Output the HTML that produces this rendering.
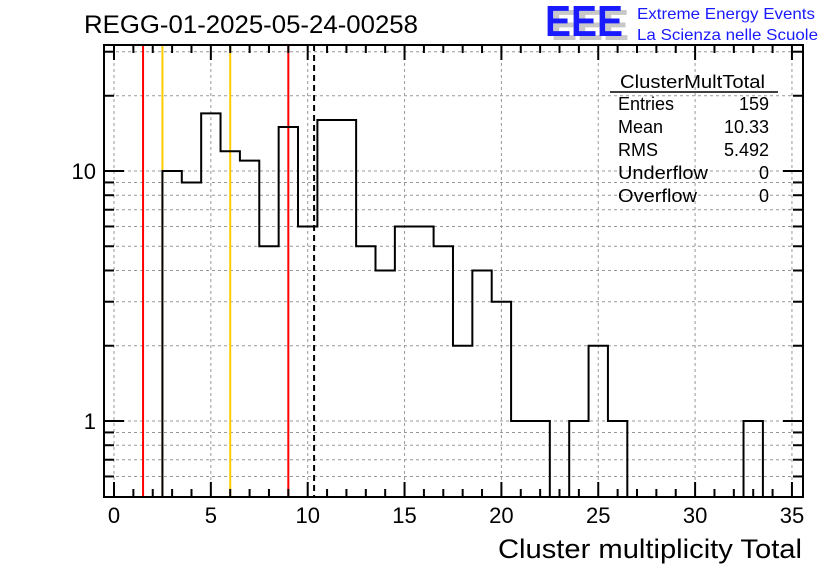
<!DOCTYPE html>
<html><head><meta charset="utf-8"><style>
body{margin:0;background:#fff;}
svg{display:block;font-family:"Liberation Sans",Arial,sans-serif;}
</style></head><body>
<svg id="c" width="836" height="572" xmlns="http://www.w3.org/2000/svg">
<text x="84" y="33" font-size="25" textLength="334" lengthAdjust="spacingAndGlyphs">REGG-01-2025-05-24-00258</text>
<g>
<text x="551" y="40" font-size="44" font-weight="bold" fill="#c8c8c8" textLength="78" lengthAdjust="spacingAndGlyphs">EEE</text>
<text x="545" y="36" font-size="44" font-weight="bold" fill="#1a1aff" textLength="78" lengthAdjust="spacingAndGlyphs">EEE</text>
<text x="637" y="19" font-size="16" fill="#1a1aff" textLength="178" lengthAdjust="spacingAndGlyphs">Extreme Energy Events</text>
<text x="637" y="40" font-size="16" fill="#1a1aff" textLength="181" lengthAdjust="spacingAndGlyphs">La Scienza nelle Scuole</text>
</g>
<g id="grid"></g>
<g id="marks"></g>
<g id="axes"></g>
<g font-size="18">
<text x="620" y="88" textLength="145" lengthAdjust="spacingAndGlyphs">ClusterMultTotal</text>
<line x1="610" y1="92" x2="778" y2="92" stroke="#000" stroke-width="1.5"/>
<text x="618" y="110">Entries</text><text x="769" y="110" text-anchor="end">159</text>
<text x="618" y="133">Mean</text><text x="769" y="133" text-anchor="end">10.33</text>
<text x="618" y="156">RMS</text><text x="769" y="156" text-anchor="end">5.492</text>
<text x="618" y="179" textLength="90" lengthAdjust="spacingAndGlyphs">Underflow</text><text x="769" y="179" text-anchor="end">0</text>
<text x="618" y="202" textLength="79" lengthAdjust="spacingAndGlyphs">Overflow</text><text x="769" y="202" text-anchor="end">0</text>
</g>
<text x="802" y="558" font-size="27" text-anchor="end" textLength="304" lengthAdjust="spacingAndGlyphs">Cluster multiplicity Total</text>
</svg>
<script>
const binLo = [2.5,3.5,4.5,5.5,6.5,7.5,8.5,9.5,10.5,11.5,12.5,13.5,14.5,15.5,16.5,17.5,18.5,19.5,20.5,21.5,22.5,23.5,24.5,25.5,26.5,27.5,28.5,29.5,30.5,31.5,32.5];
const counts = [10,9,17,12,11,5,15,6,16,16,5,4,6,6,5,2,4,3,1,1,0,1,2,1,0,0,0,0,0,0,1];
const xTicks = [0,5,10,15,20,25,30,35];
const yTickLabels = [1,10];
const redLines = [1.5,9];
const yellowLines = [2.5,6];
const meanLine = [10.33];

const L=104,R=803,T=45,B=497;
const x0=114,pxU=19.37;
const X=v=>x0+v*pxU;
const Y=v=>421-250*Math.log10(v);
const NS='http://www.w3.org/2000/svg';
function mk(tag,attrs,parent){const e=document.createElementNS(NS,tag);for(const k in attrs)e.setAttribute(k,attrs[k]);parent.appendChild(e);return e;}
const grid=document.getElementById('grid'),marks=document.getElementById('marks'),axes=document.getElementById('axes');
const minors=[0.6,0.7,0.8,0.9,1,2,3,4,5,6,7,8,9,10,20,30];
minors.forEach(v=>{const l=mk('line',{x1:L,x2:R,y1:Y(v),y2:Y(v),stroke:'#999','stroke-dasharray':'3,3','stroke-width':1},grid);

});
xTicks.forEach(v=>{const l=mk('line',{x1:X(v),x2:X(v),y1:T,y2:B,stroke:'#999','stroke-dasharray':'3,3','stroke-width':1},grid);

});
redLines.forEach(v=>{const l=mk('line',{x1:X(v),x2:X(v),y1:T,y2:B,stroke:'#f00','stroke-width':2},marks);

});
yellowLines.forEach(v=>{const l=mk('line',{x1:X(v),x2:X(v),y1:T,y2:B,stroke:'#fc0','stroke-width':2},marks);

});
meanLine.forEach(v=>{const l=mk('line',{x1:X(v),x2:X(v),y1:T,y2:B,stroke:'#000','stroke-width':2,'stroke-dasharray':'6,4'},marks);

});
let d='';let first=true;
binLo.forEach((lo,i)=>{const c=counts[i];const yy=c>0?Y(c):B;const xa=X(lo),xb=X(lo+1);
 if(first){d+=`M${xa},${B}L${xa},${yy}`;first=false;}else{d+=`L${xa},${yy}`;}
 d+=`L${xb},${yy}`;});
d+=`L${X(binLo[binLo.length-1]+1)},${B}`;
const h=mk('path',{d:d,fill:'none',stroke:'#000','stroke-width':2},marks);


const f=mk('rect',{x:L,y:T,width:R-L,height:B-T,fill:'none',stroke:'#000','stroke-width':2},axes);


for(let v=0;v<=35;v++){const maj=v%5===0;const len=maj?15:8;
 mk('line',{x1:X(v),x2:X(v),y1:B,y2:B-len,stroke:'#000','stroke-width':2},axes);
 mk('line',{x1:X(v),x2:X(v),y1:T,y2:T+len,stroke:'#000','stroke-width':2},axes);}
xTicks.forEach(v=>{const t=mk('text',{x:X(v),y:523,'font-size':22,'text-anchor':'middle'},axes);t.textContent=v;

});
minors.forEach(v=>{const maj=(v===1||v===10);const len=maj?20:10;
 mk('line',{x1:L,x2:L+len,y1:Y(v),y2:Y(v),stroke:'#000','stroke-width':2},axes);
 mk('line',{x1:R,x2:R-len,y1:Y(v),y2:Y(v),stroke:'#000','stroke-width':2},axes);});
yTickLabels.forEach(v=>{const t=mk('text',{x:96,y:Y(v)+8,'font-size':22,'text-anchor':'end'},axes);t.textContent=v;

});
</script>
</body></html>
